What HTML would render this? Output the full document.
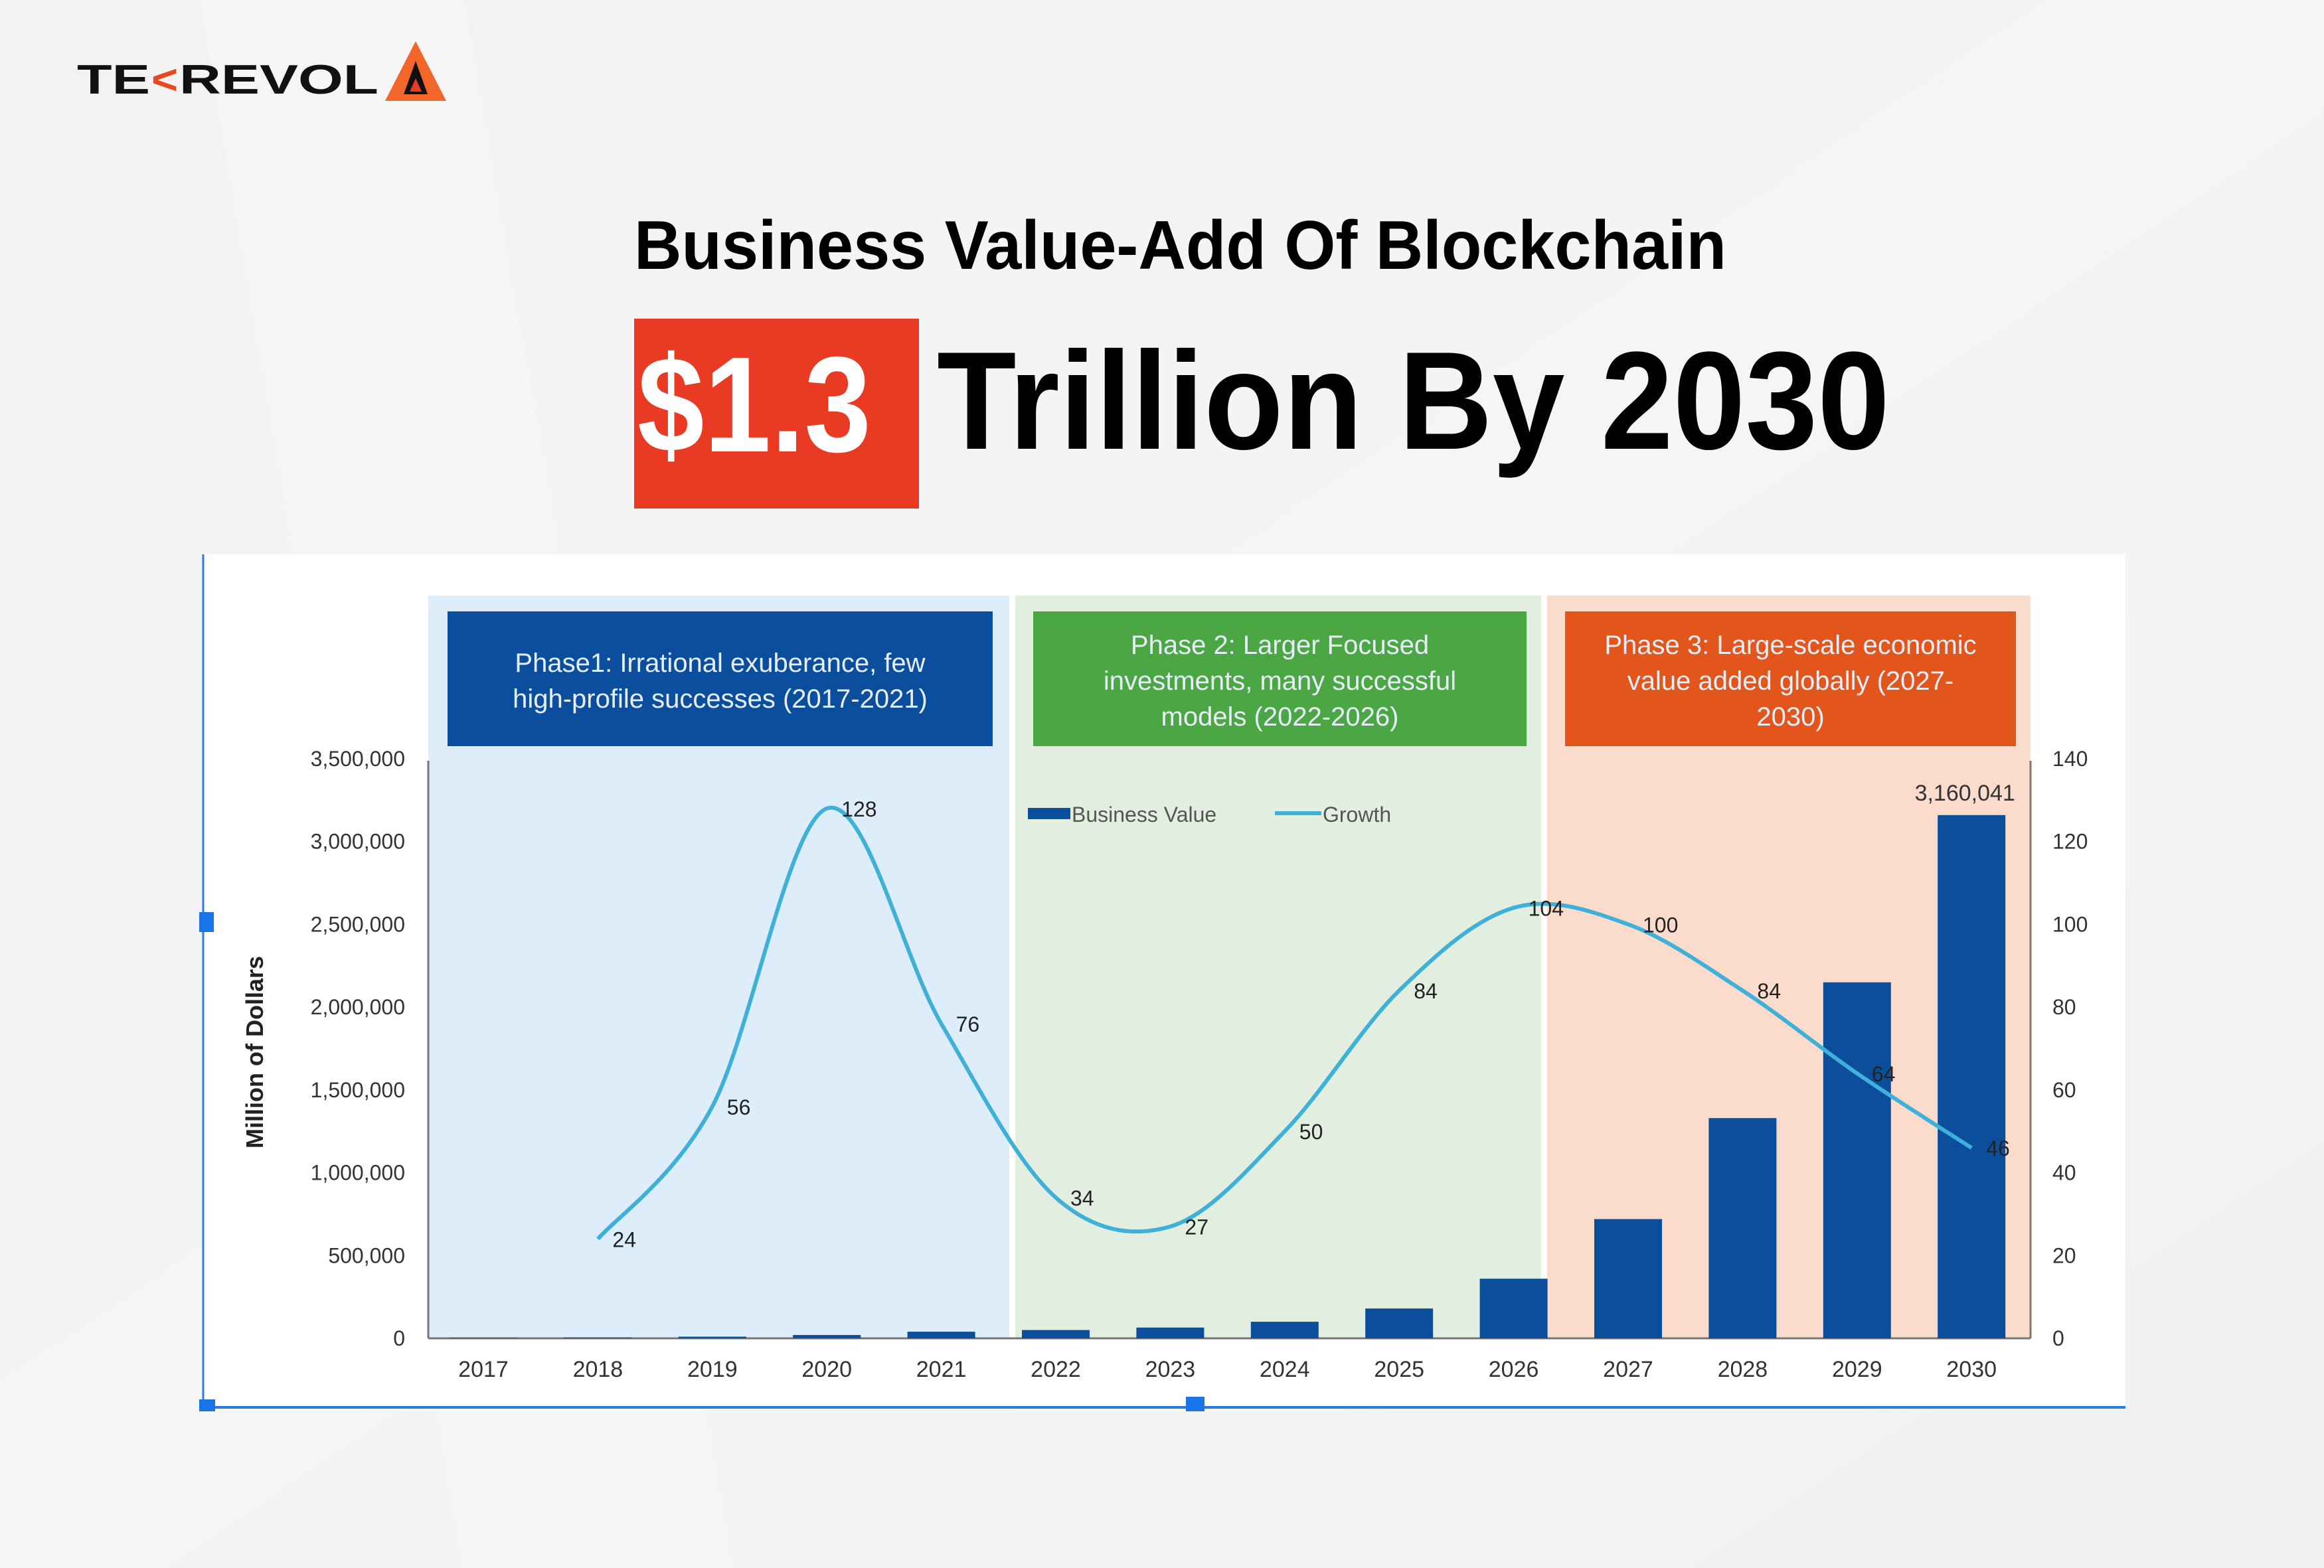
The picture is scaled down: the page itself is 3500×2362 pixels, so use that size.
<!DOCTYPE html>
<html><head><meta charset="utf-8"><style>
html,body{margin:0;padding:0;width:3500px;height:2362px;overflow:hidden;background:#f3f3f3}
svg{display:block}
text{font-family:"Liberation Sans",sans-serif}
</style></head><body>
<svg id="root" width="3500" height="2362" viewBox="0 0 3500 2362" xmlns="http://www.w3.org/2000/svg">
<defs>
<linearGradient id="bg" x1="0" y1="0" x2="1" y2="1">
<stop offset="0" stop-color="#f2f2f2"/><stop offset="0.5" stop-color="#f5f5f5"/><stop offset="1" stop-color="#f0f0f0"/>
</linearGradient>
</defs>
<rect width="3500" height="2362" fill="url(#bg)"/>
<polygon points="300,0 700,0 1100,2362 700,2362" fill="#f7f7f7" opacity="0.5"/>

<g>
<text x="116" y="141" font-size="62" font-weight="bold" fill="#111" textLength="110" lengthAdjust="spacingAndGlyphs">TE</text>
<text x="228" y="141" font-size="62" font-weight="bold" fill="#e8471f" textLength="40" lengthAdjust="spacingAndGlyphs">&lt;</text>
<text x="270" y="141" font-size="62" font-weight="bold" fill="#111" textLength="300" lengthAdjust="spacingAndGlyphs">REVOL</text>
<polygon points="626,62 580,152 672,152" fill="#f2662a"/>
<polygon points="626,92 608,142 644,142" fill="#111"/>
<polygon points="626,118 617,138 635,138" fill="#e93a24"/>
</g>

<text x="955" y="405" font-size="104" font-weight="bold" fill="#000" textLength="1645" lengthAdjust="spacingAndGlyphs">Business Value-Add Of Blockchain</text>
<rect x="955" y="480" width="429" height="286" fill="#e93a24"/>
<text x="960" y="680" font-size="205" font-weight="bold" fill="#fff" textLength="352" lengthAdjust="spacingAndGlyphs">$1.3</text>
<text x="1411" y="676" font-size="210" font-weight="bold" fill="#000" textLength="1435" lengthAdjust="spacingAndGlyphs">Trillion By 2030</text>

<rect x="306" y="835" width="2895" height="1285" fill="#ffffff"/>
<g id="chart"></g>

<line x1="306" y1="835" x2="306" y2="2116" stroke="#2a7be4" stroke-width="3"/>
<line x1="306" y1="2120" x2="3201" y2="2120" stroke="#2a7be4" stroke-width="4"/>
<rect x="300" y="1374" width="22" height="30" fill="#1a73e8"/>
<rect x="300" y="2108" width="24" height="18" fill="#1a73e8"/>
<rect x="1786" y="2104" width="28" height="22" fill="#1a73e8"/>
</svg>
<script>
const years=["2017","2018","2019","2020","2021","2022","2023","2024","2025","2026","2027","2028","2029","2030"];
const businessValue=[3000,5000,10000,20000,40000,50000,65000,100000,180000,360000,720000,1330000,2150000,3160041];
const growthYears=["2018","2019","2020","2021","2022","2023","2024","2025","2026","2027","2028","2029","2030"];
const growth=[24,56,128,76,34,27,50,84,104,100,84,64,46];
const leftTicks=[0,500000,1000000,1500000,2000000,2500000,3000000,3500000];
const rightTicks=[0,20,40,60,80,100,120,140];
const phaseTitles=[["Phase1: Irrational exuberance, few","high-profile successes (2017-2021)"],["Phase 2: Larger Focused","investments, many successful","models (2022-2026)"],["Phase 3: Large-scale economic","value added globally (2027-","2030)"]];

const NS="http://www.w3.org/2000/svg";
const g=document.getElementById('chart');
function mk(t,a,parent){const e=document.createElementNS(NS,t);for(const k in a)e.setAttribute(k,a[k]);(parent||g).appendChild(e);return e;}
const X0=728,STEP=172.4,Y0=2016,YTOP=1143;
const xPos=i=>X0+i*STEP;
const yL=v=>Y0-(v/3500000)*(Y0-YTOP);
const yR=v=>Y0-(v/140)*(Y0-YTOP);

const phases=[{x:645,w:875,bg:"#ddedfa",box:"#0b4e9d",bx:674,bw:821,ty:[1012,1066]},
{x:1529,w:792,bg:"#e2eee0",box:"#4ba744",bx:1556,bw:743,ty:[985,1039,1093]},
{x:2330,w:728,bg:"#fbdccc",box:"#e2561b",bx:2357,bw:679,ty:[985,1039,1093]}];
phases.forEach((p,i)=>{
 const r=mk('rect',{x:p.x,y:897,width:p.w,height:1120,fill:p.bg});
 
 
 const b=mk('rect',{x:p.bx,y:921,width:p.bw,height:203,fill:p.box});
 
 
 phaseTitles[i].forEach((ln,j)=>{
  const t=mk('text',{x:p.bx+p.bw/2,y:p.ty[j],'text-anchor':'middle','font-size':40,fill:'#e8eef8'});
  t.textContent=ln;
  
  
 });
});

const ax1=mk('line',{x1:645,y1:1146,x2:645,y2:Y0,stroke:'#777','stroke-width':3});


const ax2=mk('line',{x1:3058,y1:1146,x2:3058,y2:Y0,stroke:'#777','stroke-width':3});


const ax3=mk('line',{x1:645,y1:Y0,x2:3058,y2:Y0,stroke:'#777','stroke-width':3});



leftTicks.forEach(v=>{
 const t=mk('text',{x:610,y:yL(v)+11,'text-anchor':'end','font-size':32,fill:'#333'});
 t.textContent=v.toLocaleString('en-US');
 
 
});
rightTicks.forEach(v=>{
 const t=mk('text',{x:3091,y:yR(v)+11,'font-size':32,fill:'#333'});
 t.textContent=v;
 
 
});
years.forEach((y,i)=>{
 const t=mk('text',{x:xPos(i),y:2074,'text-anchor':'middle','font-size':34,fill:'#333'});
 t.textContent=y;
 
 
});
const yt=mk('text',{x:0,y:0,'text-anchor':'middle','font-size':36,'font-weight':'bold',fill:'#222',transform:'translate(396,1585) rotate(-90)'});
yt.textContent='Million of Dollars';



businessValue.forEach((v,i)=>{
 const y=yL(v);
 const b=mk('rect',{x:xPos(i)-51,y:y,width:102,height:Y0-y,fill:'#0b4f9c'});
 
 
});
const last=businessValue.length-1;
const bl=mk('text',{x:xPos(last)-10,y:yL(businessValue[last])-22,'text-anchor':'middle','font-size':34,fill:'#333'});
bl.textContent=businessValue[last].toLocaleString('en-US');



const pts=growth.map((v,i)=>[xPos(years.indexOf(growthYears[i])),yR(v)]);
let d='M'+pts[0][0]+','+pts[0][1];
for(let i=0;i<pts.length-1;i++){
 const p0=pts[i-1]||pts[i],p1=pts[i],p2=pts[i+1],p3=pts[i+2]||p2;
 const c1=[p1[0]+(p2[0]-p0[0])/6,p1[1]+(p2[1]-p0[1])/6];
 const c2=[p2[0]-(p3[0]-p1[0])/6,p2[1]-(p3[1]-p1[1])/6];
 d+=' C'+c1[0]+','+c1[1]+' '+c2[0]+','+c2[1]+' '+p2[0]+','+p2[1];
}
const line=mk('path',{d:d,fill:'none',stroke:'#3fb0d8','stroke-width':6});


pts.forEach((p,i)=>{
 const t=mk('text',{x:p[0]+22,y:p[1]+12,'font-size':32,fill:'#222'});
 t.textContent=growth[i];
 
 
});

const lg=mk('g',{});


const lr=mk('rect',{x:1548,y:1217,width:64,height:17,fill:'#0b4f9c'},lg);


const lt1=mk('text',{x:1614,y:1238,'font-size':32,fill:'#555'},lg);
lt1.textContent='Business Value';


const ll=mk('line',{x1:1920,y1:1225,x2:1990,y2:1225,stroke:'#3fb0d8','stroke-width':6},lg);


const lt2=mk('text',{x:1992,y:1238,'font-size':32,fill:'#555'},lg);
lt2.textContent='Growth';


</script>
</body></html>
